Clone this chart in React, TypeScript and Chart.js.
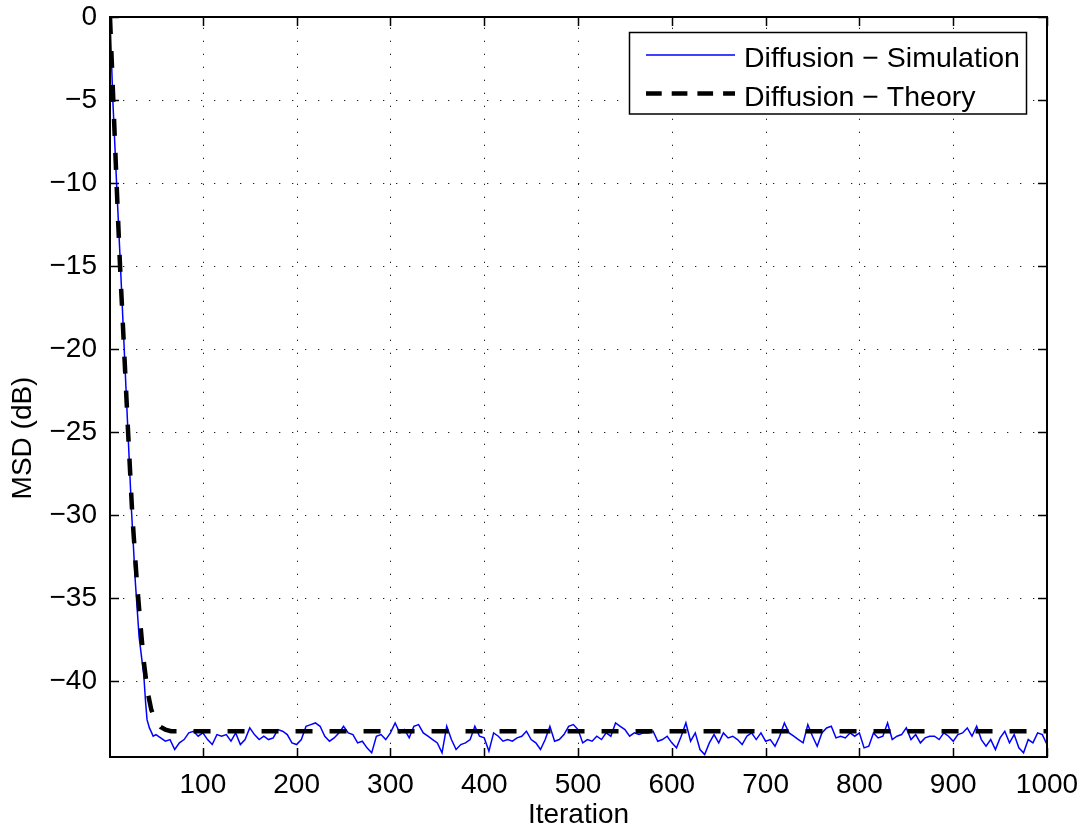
import React, { useEffect, useRef } from 'react';
import { Chart, registerables } from 'chart.js';

Chart.register(...registerables);

const FONT = '"Liberation Sans", Arial, Helvetica, sans-serif';

const xTicks = [100, 200, 300, 400, 500, 600, 700, 800, 900, 1000];
const yTicks = [0, -5, -10, -15, -20, -25, -30, -35, -40];
const xMin = 1;
const xMax = 1000;
const yMin = -44.55;
const yMax = 0;

const seriesLabels = ['Diffusion \u2212 Simulation', 'Diffusion \u2212 Theory'];
const xTitle = 'Iteration';
const yTitle = 'MSD (dB)';

// Theory curve
const theoryIter = [1, 4.5, 8, 11.7, 16, 20.3, 24.8, 29, 33, 37, 41, 45, 50, 55, 60, 66, 1000];
const theoryMsd = [0, -5, -10, -15, -20, -25, -30, -33.5, -36.3, -38.8, -40.6, -41.7, -42.4, -42.75, -42.9, -43.0, -43.0];

// Simulation transient
const simEarlyIter = [1, 4, 8, 12, 16, 20, 24, 28, 32, 35, 37, 39, 40.5, 43, 45.5, 47];
const simEarlyMsd = [0, -5, -10, -14.8, -19.8, -24.8, -29.8, -34, -37.3, -38.7, -39.6, -41.3, -42.3, -42.8, -43.1, -43.3];

// Simulation steady state, sampled every 5 iterations from 50 to 1000
const simSteadyStart = 50;
const simSteadyStep = 5;
const simSteadyMsd = [
  -43.2, -43.4, -43.6, -43.5, -44.1, -43.7, -43.5, -43.1, -43.0, -43.3,
  -43.1, -43.5, -43.8, -43.2, -43.3, -43.2, -43.6, -43.1, -43.8, -43.5,
  -42.8, -43.2, -43.5, -43.3, -43.5,
  -43.4, -42.9, -43.0, -43.2, -43.7, -43.8, -43.5, -42.7, -42.6, -42.5,
  -42.7, -43.3, -43.6, -43.4, -43.1, -42.7, -43.1, -43.2, -43.7, -43.6,
  -44.0, -44.3, -43.3, -43.2, -43.5, -43.1, -42.5, -43.1, -42.9, -43.4,
  -42.7, -42.6, -43.1, -43.3, -43.5,
  -43.7, -44.3, -42.7, -43.5, -44.1, -43.8, -43.7, -43.5, -42.7, -43.3,
  -43.4, -44.2, -43.1, -43.3, -43.6, -43.5, -43.6, -43.4, -43.3, -43.0,
  -43.5, -43.7, -44.1, -43.5, -42.7, -43.6, -43.5, -43.2, -42.7, -42.6,
  -42.9, -43.7, -43.5, -43.6,
  -43.3, -43.5, -43.1, -43.3, -42.5, -42.7, -42.9, -43.3, -43.1, -43.2,
  -43.1, -43.1, -43.0, -43.6, -43.5, -43.3, -43.7, -44.0, -43.3, -42.5,
  -43.6, -43.1, -44.1, -44.4, -43.7, -43.2, -43.7, -43.1, -43.4, -43.3,
  -43.5, -43.8, -43.3, -43.1,
  -43.5, -43.1, -43.6, -43.5, -43.9, -43.3, -42.5, -43.1, -43.3, -43.5,
  -43.7, -42.6, -43.3, -43.9, -43.1, -42.8, -42.7, -43.4, -43.3, -43.4,
  -43.1, -43.3, -43.1, -44.0, -43.9, -43.1, -43.4, -43.3, -42.5, -43.5,
  -43.3, -43.2, -42.8, -43.5,
  -43.2, -43.7, -43.4, -43.3, -43.3, -43.5, -43.1, -43.3, -43.6, -43.2,
  -43.1, -42.8, -43.3, -42.7, -43.5, -43.9, -43.5, -44.1, -43.4, -43.0,
  -43.7, -43.2, -44.0, -44.3, -43.5, -43.7, -43.1, -43.2, -43.8,
];

const simPoints = [
  ...simEarlyIter.map((x, i) => ({ x, y: simEarlyMsd[i] })),
  ...simSteadyMsd.map((y, i) => ({ x: simSteadyStart + i * simSteadyStep, y })),
];
const theoryPoints = theoryIter.map((x, i) => ({ x, y: theoryMsd[i] }));

const matlabPlugin = {
  id: 'matlabAxes',
  beforeDatasetsDraw(chart: any) {
    const { ctx, chartArea: a, scales } = chart;
    const x = scales.x;
    const y = scales.y;
    ctx.save();
    ctx.strokeStyle = '#1e1e1e';
    ctx.lineWidth = 1;
    ctx.setLineDash([1.3, 11.7]);
    for (const v of xTicks) {
      const px = Math.round(x.getPixelForValue(v)) + 0.5;
      ctx.beginPath();
      ctx.moveTo(px, a.bottom);
      ctx.lineTo(px, a.top);
      ctx.stroke();
    }
    for (const v of yTicks) {
      const py = Math.round(y.getPixelForValue(v)) + 0.5;
      ctx.beginPath();
      ctx.moveTo(a.left, py);
      ctx.lineTo(a.right, py);
      ctx.stroke();
    }
    ctx.restore();
  },
  afterDraw(chart: any) {
    const { ctx, chartArea: a, scales } = chart;
    const x = scales.x;
    const y = scales.y;
    ctx.save();
    ctx.setLineDash([]);
    ctx.strokeStyle = '#000';
    ctx.lineWidth = 2;
    ctx.strokeRect(a.left, a.top, a.right - a.left, a.bottom - a.top);

    const tl = 9;
    ctx.lineWidth = 1.5;
    for (const v of xTicks) {
      const px = Math.round(x.getPixelForValue(v)) + 0.5;
      ctx.beginPath();
      ctx.moveTo(px, a.bottom);
      ctx.lineTo(px, a.bottom - tl);
      ctx.moveTo(px, a.top);
      ctx.lineTo(px, a.top + tl);
      ctx.stroke();
    }
    for (const v of yTicks) {
      const py = Math.round(y.getPixelForValue(v)) + 0.5;
      ctx.beginPath();
      ctx.moveTo(a.left, py);
      ctx.lineTo(a.left + tl, py);
      ctx.moveTo(a.right, py);
      ctx.lineTo(a.right - tl, py);
      ctx.stroke();
    }

    // Axis titles
    ctx.fillStyle = '#000';
    ctx.font = `28px ${FONT}`;
    ctx.textAlign = 'center';
    ctx.textBaseline = 'middle';
    ctx.fillText(xTitle, (a.left + a.right) / 2, 815);
    ctx.save();
    ctx.translate(23, 438);
    ctx.rotate(-Math.PI / 2);
    ctx.fillText(yTitle, 0, 0);
    ctx.restore();

    // Legend
    const lx = 629.5, ly = 32.5, lw = 397, lh = 81.5;
    ctx.fillStyle = '#fff';
    ctx.fillRect(lx, ly, lw, lh);
    ctx.strokeStyle = '#000';
    ctx.lineWidth = 1.5;
    ctx.strokeRect(lx, ly, lw, lh);
    const ds = chart.data.datasets;
    const rows = [
      { d: ds[1], yLine: 55, yText: 67, dash: [] as number[] },
      { d: ds[0], yLine: 93.5, yText: 105.5, dash: [15.7, 10] },
    ];
    for (const r of rows) {
      ctx.beginPath();
      ctx.strokeStyle = r.d.borderColor;
      ctx.lineWidth = r.d.borderWidth;
      ctx.setLineDash(r.dash);
      ctx.moveTo(646, r.yLine);
      ctx.lineTo(735, r.yLine);
      ctx.stroke();
      ctx.setLineDash([]);
      ctx.fillStyle = '#000';
      ctx.textAlign = 'left';
      ctx.textBaseline = 'alphabetic';
      ctx.font = `28.5px ${FONT}`;
      ctx.fillText(r.d.label, 744, r.yText);
    }
    ctx.restore();
  },
};

export default function App() {
  const ref = useRef<HTMLCanvasElement | null>(null);
  useEffect(() => {
    if (!ref.current) return;
    const chart = new Chart(ref.current, {
      type: 'line',
      data: {
        datasets: [
          {
            label: seriesLabels[1],
            data: theoryPoints,
            borderColor: '#000000',
            borderWidth: 4.5,
            borderDash: [17, 17],
            pointRadius: 0,
            fill: false,
            tension: 0,
            order: 1,
          },
          {
            label: seriesLabels[0],
            data: simPoints,
            borderColor: '#0000ff',
            borderWidth: 1.5,
            pointRadius: 0,
            fill: false,
            tension: 0,
            order: 2,
          },
        ],
      },
      options: {
        animation: false,
        responsive: false,
        maintainAspectRatio: false,
        devicePixelRatio: 1,
        layout: { padding: { top: 17, right: 39, left: 0, bottom: 0 } },
        plugins: {
          legend: { display: false },
          tooltip: { enabled: false },
          title: { display: false },
        },
        scales: {
          x: {
            type: 'linear',
            min: xMin,
            max: xMax,
            afterBuildTicks: (s: any) => {
              s.ticks = xTicks.map((v) => ({ value: v }));
            },
            afterFit: (s: any) => {
              s.height = 79;
              s.paddingLeft = 0;
              s.paddingRight = 0;
            },
            grid: { display: false },
            border: { display: false },
            ticks: {
              autoSkip: false,
              maxRotation: 0,
              minRotation: 0,
              padding: 3,
              color: '#000',
              font: { family: FONT, size: 28 },
              callback: (v: any) => String(v),
            },
          },
          y: {
            type: 'linear',
            min: yMin,
            max: yMax,
            afterBuildTicks: (s: any) => {
              s.ticks = yTicks.map((v) => ({ value: v }));
            },
            afterFit: (s: any) => {
              s.width = 110;
              s.paddingTop = 0;
              s.paddingBottom = 0;
            },
            grid: { display: false },
            border: { display: false },
            ticks: {
              autoSkip: false,
              padding: 5,
              color: '#000',
              font: { family: FONT, size: 28 },
              callback: (v: any) => (v < 0 ? '\u2212' + Math.abs(v) : String(v)),
            },
          },
        },
      },
      plugins: [matlabPlugin],
    } as any);
    return () => chart.destroy();
  }, []);
  return (
    <div style={{ position: 'absolute', left: 0, top: 0, width: 1086, height: 836, background: '#fff' }}>
      <canvas ref={ref} width={1086} height={836} />
    </div>
  );
}
